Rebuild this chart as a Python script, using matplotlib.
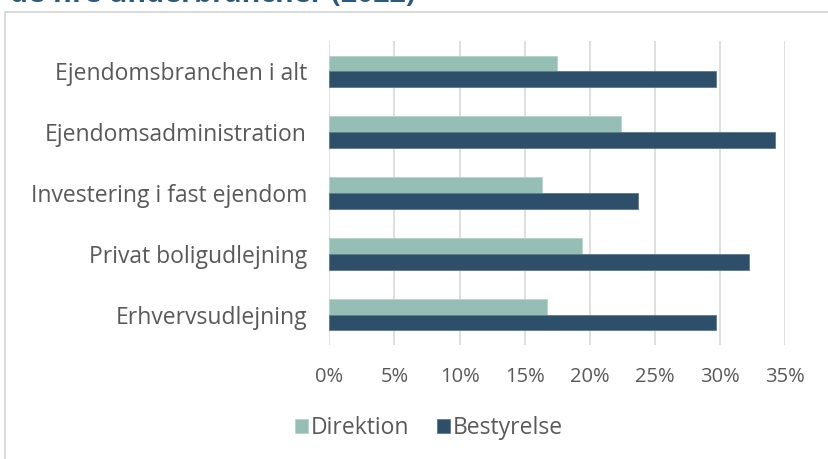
import matplotlib
matplotlib.use("Agg")
import matplotlib.pyplot as plt
from matplotlib.lines import Line2D
import numpy as np

categories = ["Ejendomsbranchen i alt", "Ejendomsadministration",
              "Investering i fast ejendom", "Privat boligudlejning", "Erhvervsudlejning"]
direktion = [17.5, 22.4, 16.3, 19.4, 16.7]
bestyrelse = [29.7, 34.2, 23.7, 32.2, 29.7]
xticks = [0, 5, 10, 15, 20, 25, 30, 35]
xticklabels = ["0%", "5%", "10%", "15%", "20%", "25%", "30%", "35%"]
series_names = ["Direktion", "Bestyrelse"]
title = "de fire underbrancher (2022)"

c_dir = "#95BFB5"
c_bes = "#2D4F6A"
txt = "#595959"
font = "Open Sans"

fig = plt.figure(figsize=(8.29, 4.59), dpi=100)
ax = fig.add_axes([329.3/829, 1-345/459, (785.3-329.3)/829, (345-41)/459])

y = np.arange(len(categories))
h = 0.26
ax.barh(y - h/2, direktion, height=h, color=c_dir, edgecolor="#b5d3cc", linewidth=0.6, label=series_names[0], zorder=3)
ax.barh(y + h/2, bestyrelse, height=h, color=c_bes, edgecolor="#5d7a90", linewidth=0.6, label=series_names[1], zorder=3)

ax.set_ylim(len(categories) - 0.5, -0.5)
ax.set_xlim(0, 35)
ax.set_xticks(xticks)
ax.set_xticklabels(xticklabels, fontfamily=font, fontsize=14.5, color=txt)
ax.set_yticks(y)
ax.set_yticklabels(categories, fontfamily=font, fontsize=16.5, color=txt)
ax.tick_params(axis="both", length=0)
ax.tick_params(axis="x", pad=16)
ax.tick_params(axis="y", pad=16)
for s in ax.spines.values():
    s.set_visible(False)
ax.grid(axis="x", color="#d9d9d9", linewidth=1.2, zorder=0)
ax.set_axisbelow(True)

leg = fig.legend(loc="center", bbox_to_anchor=(429/829, 1-428/459), ncol=2, frameon=False,
                 prop={"family": font, "size": 16.5}, handlelength=0.55, handleheight=0.55,
                 handletextpad=0.15, columnspacing=1.2, labelcolor=txt)

# outer chart border
fig.add_artist(Line2D([5.5/829, 5.5/829], [0, 1-12/459], color="#d9d9d9", lw=1.4, transform=fig.transFigure))
fig.add_artist(Line2D([5.5/829, 1], [1-12/459, 1-12/459], color="#d9d9d9", lw=1.4, transform=fig.transFigure))

fig.text(10/829, 1 - 2/459, title, fontfamily=font, fontweight="bold", fontsize=20.5,
         color="#2C5A7E", va="baseline", ha="left")

fig.savefig("out.png", dpi=100)
